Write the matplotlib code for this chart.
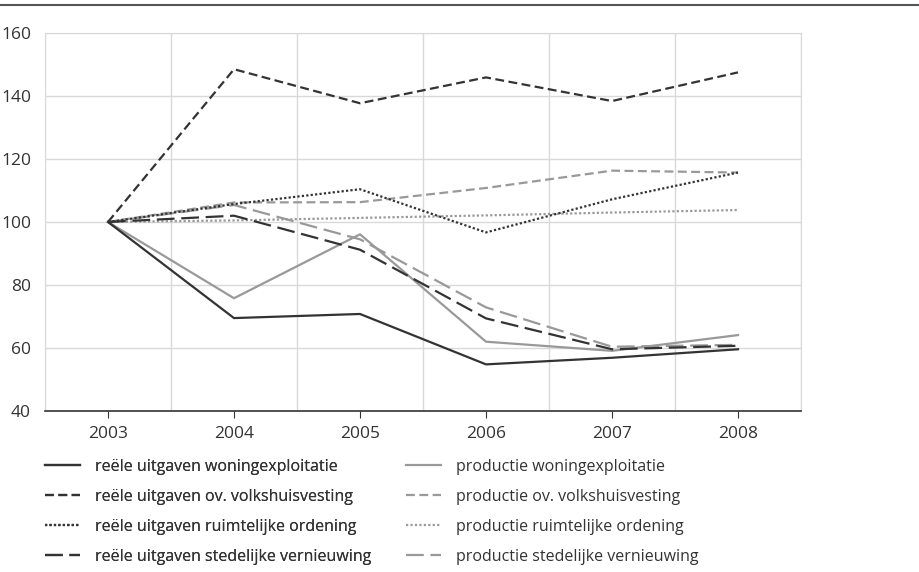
import matplotlib
matplotlib.use("Agg")
import matplotlib.pyplot as plt
from matplotlib.lines import Line2D

plt.rcParams['font.family'] = ['Open Sans', 'DejaVu Sans']

# data
jaren = [2003, 2004, 2005, 2006, 2007, 2008]
reeel_woning = [100, 69.5, 70.8, 54.8, 56.9, 59.6]
reeel_volks = [100, 148.5, 137.7, 145.9, 138.4, 147.5]
reeel_ruimte = [100, 105.7, 110.4, 96.7, 107.2, 115.7]
reeel_stedelijk = [100, 102.0, 91.2, 69.4, 59.6, 60.7]
prod_woning = [100, 75.8, 96.1, 62.0, 59.1, 64.1]
prod_volks = [100, 106.2, 106.3, 110.8, 116.3, 115.7]
prod_ruimte = [100, 100.5, 101.3, 102.1, 103.0, 103.8]
prod_stedelijk = [100, 105.4, 94.5, 72.9, 60.4, 61.0]

labels_reeel = ['reële uitgaven woningexploitatie', 'reële uitgaven ov. volkshuisvesting',
                'reële uitgaven ruimtelijke ordening', 'reële uitgaven stedelijke vernieuwing']
labels_prod = ['productie woningexploitatie', 'productie ov. volkshuisvesting',
               'productie ruimtelijke ordening', 'productie stedelijke vernieuwing']

donker = '#333333'
grijs = '#999999'
stijlen = ['-', (0, (4, 2)), (0, (1, 1)), (0, (8, 3))]

fig = plt.figure(figsize=(9.2, 5.72), dpi=100)
ax = fig.add_axes([45/920, 1 - 411/572, 756/920, 378/572])

x = list(range(len(jaren)))
h_reeel = []
for serie, ls, lab in zip([reeel_woning, reeel_volks, reeel_ruimte, reeel_stedelijk], stijlen, labels_reeel):
    h, = ax.plot(x, serie, color=donker, lw=1.6, linestyle=ls, label=lab, zorder=3)
    h_reeel.append(h)
h_prod = []
for serie, ls, lab in zip([prod_woning, prod_volks, prod_ruimte, prod_stedelijk], stijlen, labels_prod):
    h, = ax.plot(x, serie, color=grijs, lw=1.6, linestyle=ls, label=lab, zorder=2)
    h_prod.append(h)

ax.set_xlim(-0.5, 5.5)
ax.set_ylim(40, 160)
ax.set_yticks(range(40, 161, 20))
ax.set_xticks(x)
ax.set_xticklabels([str(j) for j in jaren])
ax.set_xticks([i + 0.5 for i in range(-1, 6)], minor=True)
ax.grid(False)
ax.grid(True, which='minor', axis='x', color='#d9d9d9', lw=1)
ax.grid(True, which='major', axis='y', color='#d9d9d9', lw=1)
ax.set_axisbelow(True)
for s in ['left', 'top', 'right']:
    ax.spines[s].set_color('#d9d9d9')
ax.spines['bottom'].set_color(donker)
ax.spines['bottom'].set_linewidth(1.2)
ax.tick_params(axis='y', length=0, pad=10, labelsize=12.5, labelcolor='#333333')
ax.tick_params(axis='x', which='major', length=5, color=donker, pad=6, labelsize=12.5, labelcolor='#333333')
ax.tick_params(axis='x', which='minor', length=0)

# lijn bovenaan
fig.add_artist(Line2D([0, 1], [1 - 4.5/572, 1 - 4.5/572], color='#555555', lw=1.5))

opts = dict(loc='upper left', frameon=False, fontsize=11.5, handlelength=2.2, handletextpad=0.95,
            labelspacing=0.87, borderaxespad=0, borderpad=0, labelcolor='#333333')
leg1 = fig.legend(handles=h_reeel, bbox_to_anchor=(45/920, 1 - 459/572), **opts)
fig.add_artist(leg1)
fig.legend(handles=h_prod, bbox_to_anchor=(406/920, 1 - 459/572), **opts)

fig.savefig('out.png', dpi=100)
